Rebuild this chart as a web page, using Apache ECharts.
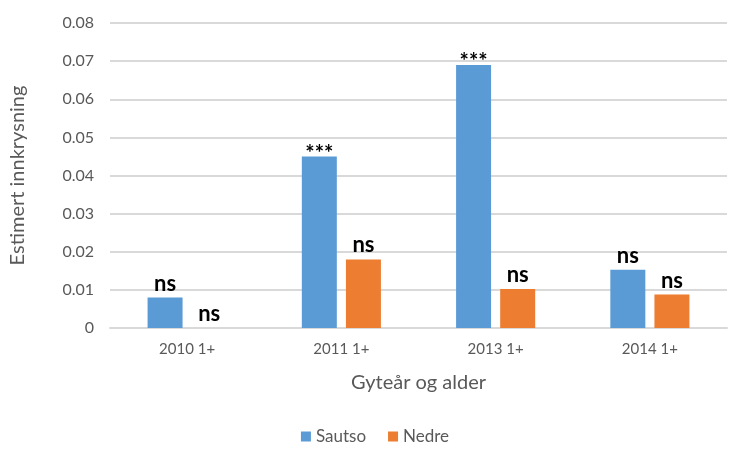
<!DOCTYPE html>
<html><head><meta charset="utf-8">
<script src="https://cdn.jsdelivr.net/npm/echarts@6/dist/echarts.min.js"></script>
<style>html,body{margin:0;padding:0;background:#fff}#c{width:750px;height:469px}</style>
</head><body><div id="c"></div>
<script>
const categories = ['2010 1+', '2011 1+', '2013 1+', '2014 1+'];
const sautso = [0.008, 0.045, 0.069, 0.0153];
const nedre = [0, 0.018, 0.0102, 0.0088];
const sautsoSig = ['ns', '***', '***', 'ns'];
const nedreSig = ['ns', 'ns', 'ns', 'ns'];
const yTicks = [0, 0.01, 0.02, 0.03, 0.04, 0.05, 0.06, 0.07, 0.08];

const FONT = 'Lato, "Open Sans", sans-serif';
function lbl(sig) {
  return {
    show: true, position: 'top', distance: 3,
    formatter: p => sig[p.dataIndex],
    color: '#000', fontFamily: FONT, fontSize: 22, fontWeight: 'bold'
  };
}
function mkData(vals, sig) {
  return vals.map((v, i) => ({
    value: v,
    label: sig[i] === '***' ? { fontSize: 22, fontWeight: 'bold', distance: 0, offset: [0, 8] } : {}
  }));
}
const chart = echarts.init(document.getElementById('c'));
chart.setOption({
  animation: false,
  grid: { left: 107, right: 23, top: 23, bottom: 141 },
  legend: {
    bottom: 19, left: 'center', itemWidth: 10, itemHeight: 10, itemGap: 22,
    icon: 'rect',
    textStyle: { color: '#595959', fontSize: 17, fontFamily: FONT },
    data: ['Sautso', 'Nedre']
  },
  xAxis: {
    type: 'category', data: categories,
    name: 'Gyteår og alder', nameLocation: 'middle', nameGap: 45,
    nameTextStyle: { color: '#595959', fontSize: 20, fontFamily: FONT },
    axisLine: { lineStyle: { color: '#d9d9d9', width: 2 } },
    axisTick: { show: false },
    axisLabel: { color: '#595959', fontSize: 15, fontFamily: FONT, margin: 14 }
  },
  yAxis: {
    type: 'value', min: 0, max: 0.08, interval: 0.01,
    name: 'Estimert innkrysning', nameLocation: 'middle', nameGap: 82,
    nameTextStyle: { color: '#595959', fontSize: 20, fontFamily: FONT },
    axisLine: { show: false }, axisTick: { show: false },
    splitLine: { lineStyle: { color: '#d9d9d9', width: 2 } },
    axisLabel: {
      color: '#595959', fontSize: 16, fontFamily: FONT, margin: 16,
      formatter: v => {
        const t = yTicks.find(x => Math.abs(x - v) < 1e-9);
        return t === 0 ? '0' : (t !== undefined ? t.toFixed(2) : '');
      }
    }
  },
  series: [
    { name: 'Sautso', type: 'bar', data: mkData(sautso, sautsoSig), barWidth: 35, barGap: '26%',
      itemStyle: { color: '#5b9bd5' }, label: lbl(sautsoSig) },
    { name: 'Nedre', type: 'bar', data: mkData(nedre, nedreSig), barWidth: 35, barGap: '26%',
      itemStyle: { color: '#ed7d31' }, label: lbl(nedreSig) }
  ]
});
</script></body></html>
